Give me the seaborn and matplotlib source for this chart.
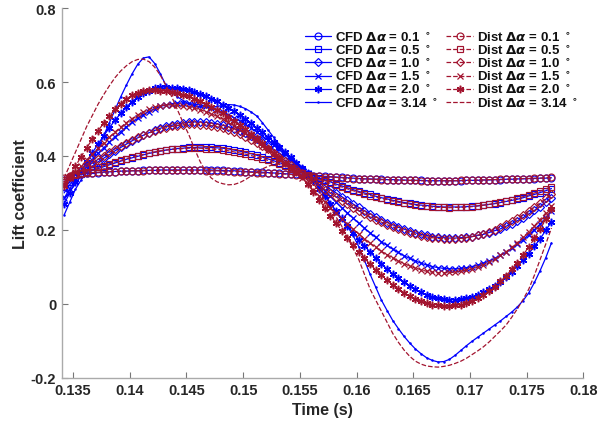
import numpy as np
import pandas as pd
import matplotlib
matplotlib.use("Agg")
import matplotlib.pyplot as plt
import seaborn as sns

# ---------------- data ----------------
time = np.round(0.1342 + 0.0005 * np.arange(87), 4)

amplitudes = ["0.1", "0.5", "1.0", "1.5", "2.0", "3.14"]

cfd_01 = [.335,.343,.348,.351,.353,.354,.355,.356,.357,.358,
          .359,.359,.360,.360,.361,.361,.361,.362,.362,.362,
          .362,.362,.362,.362,.362,.362,.362,.361,.361,.360,
          .360,.359,.358,.357,.357,.356,.355,.354,.353,.352,
          .351,.350,.349,.348,.347,.346,.345,.344,.343,.342,
          .341,.340,.339,.338,.338,.337,.337,.336,.336,.335,
          .335,.334,.334,.334,.333,.333,.333,.333,.333,.333,
          .333,.334,.334,.334,.335,.335,.336,.336,.337,.337,
          .338,.338,.339,.339,.340,.340,.341]
dist_01 = [.340,.346,.350,.352,.354,.355,.356,.357,.358,.358,
           .359,.359,.360,.360,.360,.361,.361,.361,.361,.361,
           .361,.361,.361,.361,.361,.360,.360,.360,.359,.359,
           .358,.358,.357,.356,.355,.354,.354,.353,.352,.351,
           .350,.349,.348,.347,.346,.345,.344,.343,.342,.341,
           .340,.339,.339,.338,.337,.337,.336,.336,.335,.335,
           .334,.334,.334,.333,.333,.333,.333,.333,.333,.333,
           .334,.334,.334,.335,.335,.336,.336,.337,.337,.338,
           .338,.339,.339,.340,.340,.341,.342]
cfd_05 = [.315,.330,.342,.350,.355,.361,.366,.371,.376,.381,
          .386,.391,.395,.399,.403,.407,.410,.413,.416,.418,
          .420,.421,.423,.423,.424,.424,.423,.422,.421,.419,
          .416,.413,.410,.406,.402,.397,.392,.387,.382,.376,
          .370,.364,.357,.351,.346,.340,.335,.330,.324,.319,
          .314,.309,.304,.300,.296,.291,.287,.284,.280,.277,
          .274,.272,.269,.267,.266,.264,.263,.262,.262,.262,
          .262,.263,.264,.265,.267,.269,.271,.274,.277,.280,
          .283,.287,.292,.296,.301,.306,.312]
dist_05 = [.335,.342,.348,.353,.358,.364,.369,.374,.379,.384,
           .388,.393,.397,.401,.404,.408,.411,.414,.416,.418,
           .419,.420,.421,.421,.421,.420,.419,.418,.416,.414,
           .411,.408,.405,.401,.397,.393,.388,.383,.377,.372,
           .366,.360,.354,.348,.342,.337,.331,.326,.321,.316,
           .311,.306,.302,.297,.293,.289,.285,.282,.278,.275,
           .272,.270,.267,.265,.264,.262,.261,.261,.260,.261,
           .261,.262,.263,.265,.267,.269,.272,.275,.278,.282,
           .286,.290,.295,.300,.305,.311,.317]
cfd_10 = [.300,.322,.340,.352,.363,.373,.384,.394,.404,.414,
          .423,.432,.441,.449,.456,.463,.469,.475,.480,.483,
          .487,.489,.491,.492,.492,.491,.489,.487,.483,.479,
          .474,.468,.461,.454,.445,.437,.428,.418,.408,.397,
          .386,.375,.364,.352,.342,.331,.320,.310,.300,.290,
          .280,.270,.261,.252,.244,.235,.228,.220,.214,.207,
          .202,.197,.192,.188,.185,.182,.180,.179,.178,.178,
          .179,.180,.182,.185,.188,.193,.198,.203,.210,.217,
          .225,.233,.243,.253,.263,.275,.287]
dist_10 = [.330,.342,.352,.361,.371,.381,.391,.401,.410,.419,
           .427,.435,.443,.450,.456,.462,.467,.472,.476,.480,
           .482,.484,.486,.486,.485,.484,.482,.479,.475,.470,
           .465,.459,.452,.444,.436,.427,.418,.408,.398,.387,
           .376,.365,.354,.342,.331,.320,.309,.299,.289,.279,
           .269,.260,.252,.243,.235,.228,.221,.214,.208,.202,
           .197,.192,.188,.184,.181,.179,.177,.176,.175,.176,
           .177,.179,.182,.186,.190,.195,.201,.208,.215,.223,
           .232,.241,.251,.262,.273,.285,.297]
cfd_15 = [.285,.312,.335,.357,.374,.390,.407,.422,.438,.452,
          .466,.479,.491,.502,.512,.520,.528,.534,.538,.541,
          .543,.543,.542,.540,.538,.534,.529,.524,.518,.511,
          .503,.495,.486,.476,.465,.454,.443,.430,.418,.406,
          .393,.379,.366,.353,.338,.322,.306,.291,.275,.260,
          .246,.232,.218,.205,.192,.180,.168,.158,.148,.139,
          .130,.123,.116,.110,.105,.101,.098,.096,.095,.095,
          .096,.098,.101,.105,.110,.116,.123,.131,.140,.150,
          .161,.174,.187,.201,.216,.233,.250]
dist_15 = [.325,.340,.356,.372,.389,.405,.421,.436,.451,.465,
           .478,.490,.501,.511,.519,.526,.532,.536,.538,.538,
           .537,.535,.533,.529,.525,.520,.514,.507,.499,.491,
           .482,.472,.462,.452,.440,.428,.417,.404,.392,.379,
           .366,.353,.341,.325,.308,.292,.276,.260,.245,.230,
           .216,.202,.189,.176,.164,.153,.142,.133,.124,.116,
           .109,.102,.097,.092,.088,.086,.084,.084,.085,.086,
           .088,.091,.095,.100,.106,.113,.121,.131,.141,.153,
           .166,.180,.195,.211,.228,.246,.265]
cfd_20 = [.270,.300,.330,.360,.384,.409,.432,.455,.476,.497,
          .515,.532,.547,.559,.569,.577,.583,.586,.586,.585,
          .583,.581,.578,.573,.568,.562,.555,.548,.539,.531,
          .521,.511,.500,.488,.476,.464,.451,.438,.424,.410,
          .396,.382,.367,.353,.333,.312,.292,.271,.251,.231,
          .211,.193,.174,.157,.140,.124,.109,.094,.081,.069,
          .058,.048,.039,.031,.025,.019,.015,.013,.011,.011,
          .012,.015,.019,.025,.031,.039,.049,.060,.073,.087,
          .102,.118,.136,.156,.176,.199,.222]
dist_20 = [.320,.345,.372,.398,.422,.446,.468,.489,.508,.526,
           .541,.554,.564,.571,.576,.578,.578,.577,.575,.573,
           .570,.566,.561,.555,.548,.541,.533,.524,.515,.505,
           .495,.483,.472,.460,.448,.435,.421,.408,.395,.381,
           .369,.358,.345,.325,.303,.282,.260,.239,.218,.198,
           .178,.159,.141,.124,.107,.092,.077,.064,.051,.040,
           .030,.021,.013,.007,.002,-.002,-.004,-.005,-.005,-.004,
           -.002,.002,.008,.015,.024,.035,.047,.061,.076,.093,
           .111,.132,.154,.177,.202,.229,.257]
cfd_314 = [.240,.275,.310,.335,.362,.390,.420,.455,.490,.525,
           .560,.592,.622,.648,.665,.668,.650,.622,.590,.572,
           .560,.550,.541,.536,.533,.532,.532,.534,.537,.539,
           .538,.534,.528,.519,.508,.490,.470,.450,.430,.410,
           .390,.372,.358,.347,.335,.316,.295,.273,.250,.230,
           .210,.185,.155,.118,.080,.045,.010,-.018,-.045,-.067,
           -.088,-.106,-.122,-.135,-.146,-.153,-.157,-.156,-.150,-.139,
           -.126,-.113,-.101,-.090,-.079,-.068,-.057,-.046,-.034,-.022,
           -.008,.009,.030,.058,.090,.125,.165]
dist_314 = [.340,.375,.410,.445,.480,.510,.540,.566,.590,.612,
            .630,.644,.655,.661,.662,.655,.640,.618,.590,.560,
            .525,.490,.458,.420,.385,.358,.340,.330,.325,.322,
            .323,.328,.336,.346,.356,.365,.372,.377,.380,.379,
            .375,.367,.356,.343,.325,.305,.282,.258,.235,.210,
            .180,.150,.120,.080,.040,.010,-.020,-.050,-.080,-.104,
            -.125,-.142,-.155,-.163,-.168,-.170,-.171,-.169,-.166,-.161,
            -.155,-.147,-.137,-.127,-.116,-.103,-.088,-.073,-.057,-.036,
            -.013,.012,.040,.078,.120,.162,.205]

cfd_series = [cfd_01, cfd_05, cfd_10, cfd_15, cfd_20, cfd_314]
dist_series = [dist_01, dist_05, dist_10, dist_15, dist_20, dist_314]
for s in cfd_series + dist_series:
    assert len(s) == len(time), len(s)

xticks = [0.135, 0.14, 0.145, 0.15, 0.155, 0.16, 0.165, 0.17, 0.175, 0.18]
xtick_labels = ["0.135", "0.14", "0.145", "0.15", "0.155", "0.16", "0.165", "0.17", "0.175", "0.18"]
yticks = [-0.2, 0, 0.2, 0.4, 0.6, 0.8]
ytick_labels = ["-0.2", "0", "0.2", "0.4", "0.6", "0.8"]

# ---------------- style ----------------
sns.set_theme(style="ticks")
plt.rcParams["font.family"] = ["Liberation Sans", "DejaVu Sans"]
plt.rcParams["font.weight"] = "bold"
plt.rcParams["mathtext.fontset"] = "dejavusans"

BLUE = "#0000ff"
RED = "#a2142f"
markers = ["o", "s", "D", "x", (6, 2, 0), "."]
msizes = [5.0, 4.0, 4.2, 4.4, 5.4, 2.0]
mews = [0.85, 0.85, 0.85, 0.9, 1.1, 0.8]

fig = plt.figure(figsize=(6.0, 4.31), dpi=100)
ax = fig.add_axes([0.103, 0.121, 0.869, 0.858])

for amp, vals, mk, ms, mw in zip(amplitudes, cfd_series, markers, msizes, mews):
    df = pd.DataFrame({"t": time, "cl": vals})
    sns.lineplot(data=df, x="t", y="cl", ax=ax, color=BLUE, linewidth=0.9,
                 marker=mk, markersize=ms, markerfacecolor="none",
                 markeredgecolor=BLUE, markeredgewidth=mw,
                 sort=False, errorbar=None,
                 label=f"CFD $\\Delta\\alpha$ = {amp} $^\\circ$")

for amp, vals, mk, ms, mw in zip(amplitudes, dist_series, markers, msizes, mews):
    df = pd.DataFrame({"t": time, "cl": vals})
    kw = dict(marker=mk, markersize=ms, markerfacecolor="none",
              markeredgecolor=RED, markeredgewidth=mw)
    if amp == "3.14":
        kw = dict(marker=None)
    sns.lineplot(data=df, x="t", y="cl", ax=ax, color=RED, linewidth=0.9,
                 linestyle="--", sort=False, errorbar=None,
                 label=f"Dist $\\Delta\\alpha$ = {amp} $^\\circ$", **kw)

ax.set_xlim(0.134, 0.18)
ax.set_ylim(-0.2, 0.8)
ax.set_xticks(xticks)
ax.set_xticklabels(xtick_labels)
ax.set_yticks(yticks)
ax.set_yticklabels(ytick_labels)
ax.tick_params(direction="in", length=4, width=0.8, color="#777777",
               labelsize=10.5, labelcolor="#262626", pad=4)
for lab in ax.get_xticklabels() + ax.get_yticklabels():
    lab.set_fontweight("bold")

for side in ["top", "right"]:
    ax.spines[side].set_visible(False)
for side in ["left", "bottom"]:
    ax.spines[side].set_color("#aaaaaa")
    ax.spines[side].set_linewidth(1.0)

ax.set_xlabel("Time (s)", fontsize=11.5, fontweight="bold", color="#262626", labelpad=3)
ax.set_ylabel("Lift coefficient", fontsize=11.5, fontweight="bold", color="#262626", labelpad=2)

leg = ax.legend(ncol=2, loc="upper right", bbox_to_anchor=(1.005, 0.962),
                frameon=False, prop={"weight": "bold", "size": 9.5},
                handlelength=2.0, handletextpad=0.3, columnspacing=0.6,
                labelspacing=-0.05, borderaxespad=0.2)
for t in leg.get_texts():
    t.set_color("#111111")

fig.savefig("out.png", dpi=100)
